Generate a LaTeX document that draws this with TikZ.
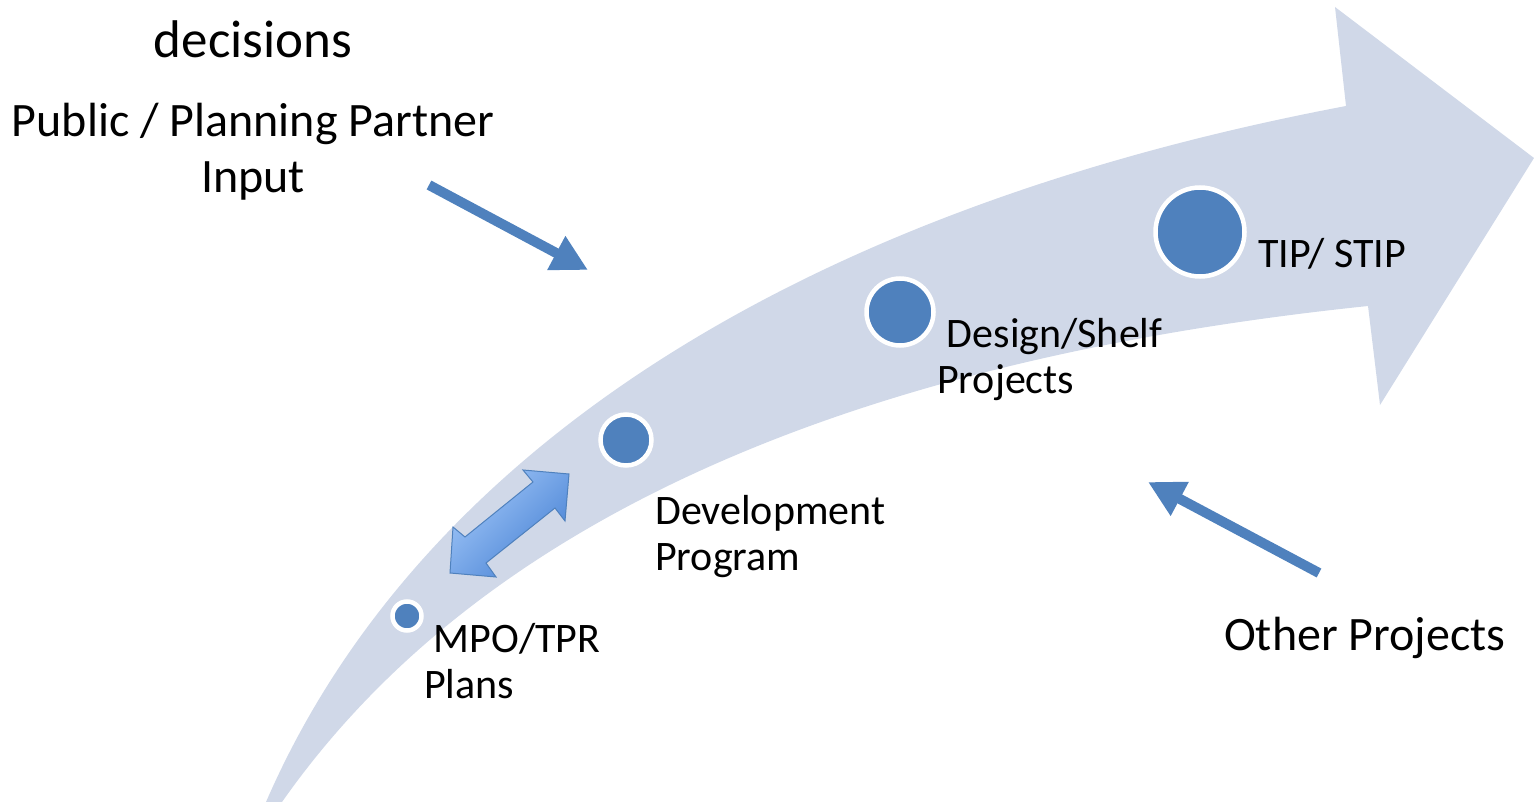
\documentclass[tikz,border=0pt]{standalone}
\usepackage{fontspec}
\setmainfont{Carlito}
\usetikzlibrary{arrows.meta,positioning}

\definecolor{bandblue}{RGB}{208,216,232}
\definecolor{dotblue}{RGB}{79,129,189}
\definecolor{lightarr}{RGB}{160,198,248}
\definecolor{darkarr}{RGB}{72,130,212}

\tikzset{
  stage/.style={circle, fill=dotblue, draw=white, line width=4.5pt, inner sep=0pt},
  biglbl/.style={font=\fontsize{48}{56}\selectfont, inner sep=0pt, align=center},
  smalllbl/.style={font=\fontsize{42}{46}\selectfont, inner sep=0pt, align=left},
  feed/.style={draw=dotblue, line width=10pt, -{Triangle[length=36pt,width=36pt]}},
}

\begin{document}
\begin{tikzpicture}[x=1pt,y=-1pt]
  \useasboundingbox (0,0) rectangle (1534,802);

  % big curved arrow
  \fill[bandblue] (266,802) .. controls (410,470) and (770,215) .. (1346,106)
    -- (1335,7) -- (1534,158) -- (1380,405) -- (1368,306)
    .. controls (850,360) and (480,520) .. (282,802) -- cycle;

  % stages
  \node[stage, minimum size=29pt] (mpo) at (407,616) {};
  \node[stage, minimum size=51pt] (devp) at (626,440) {};
  \node[stage, minimum size=67pt] (design) at (900,312) {};
  \node[stage, minimum size=89pt] (tip) at (1200,232) {};

  % two way arrow
  \draw[draw=dotblue, line width=1pt, shading=axis, top color=lightarr, bottom color=darkarr, shading angle=45]
    (569,474) -- (565,521) -- (555,508) -- (486,563) -- (496,577) -- (450,573)
    -- (453,527) -- (465,537) -- (533,482) -- (523,470) -- cycle;

  % labels (base = last line)
  \node[biglbl, anchor=base, font=\fontsize{53}{60}\selectfont] (decis) at (253,58) {decisions};
  \node[biglbl, anchor=base] (pub) at (253,193) {Public / Planning Partner\\Input};
  \node[biglbl, anchor=base west] (other) at (1224,650) {Other Projects};
  \node[smalllbl, anchor=base west] (tiplbl) at (1258,268) {TIP/ STIP};
  \node[smalllbl, anchor=base west] (designlbl) at (937,393) {\hspace*{0.23em}Design/Shelf\\Projects};
  \node[smalllbl, anchor=base west] (devplbl) at (655,570) {Development\\Program};
  \node[smalllbl, anchor=base west] (mpolbl) at (424,698) {\hspace*{0.23em}MPO/TPR\\Plans};

  % input arrows
  \coordinate (pubtail) at (429,185);
  \coordinate (pubhead) at (588,270);
  \coordinate (othtail) at (1319,573);
  \coordinate (othhead) at (1148,482);
  \draw[feed] (pubtail) -- (pubhead);
  \draw[feed] (othtail) -- (othhead);
\end{tikzpicture}
\end{document}
